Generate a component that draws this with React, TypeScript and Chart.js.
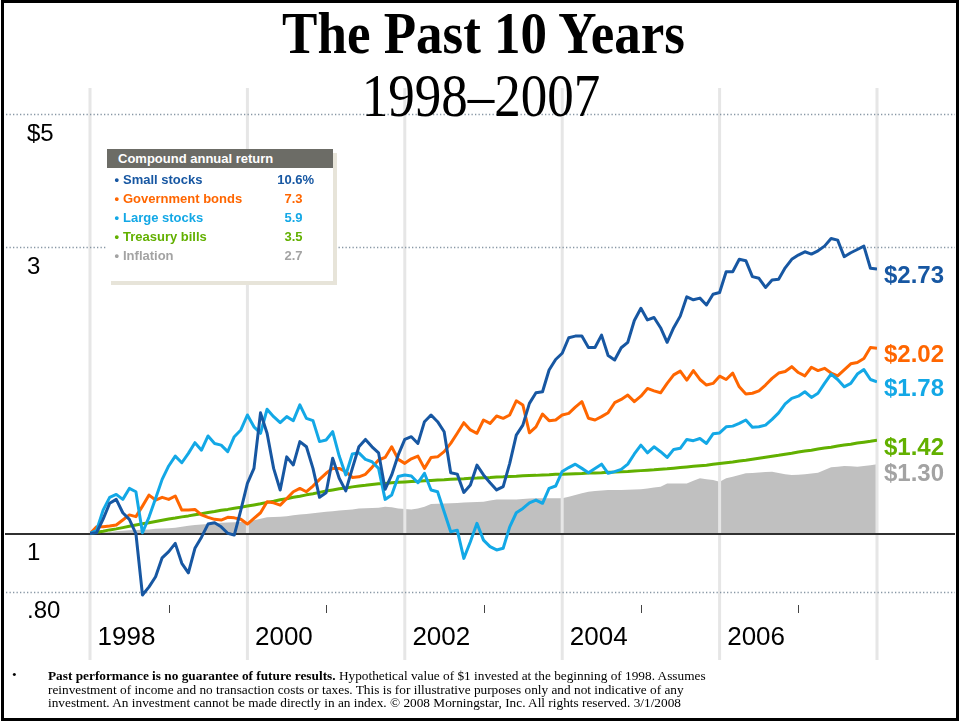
import React, { useEffect, useRef } from 'react';
import { Chart, registerables } from 'chart.js';

Chart.register(...registerables);

// ---------- data ----------
const startYear = 1998;
const endYear = 2008;
const xTickYears = [1998, 2000, 2002, 2004, 2006];
const gridYears = [1998, 2000, 2002, 2004, 2006, 2008];
const minorTickYears = [1999, 2001, 2003, 2005, 2007];
const yTickValues = [0.8, 1, 3, 5];
const yTickLabels = ['.80', '1', '3', '$5'];
const dottedValues = [0.8, 3, 5];
const baseValue = 1;

// month-end growth of $1 (Jan 1998 start .. Dec 2007)
const smallStocks = [
  1.000, 1.003, 1.057, 1.123, 1.140, 1.083, 1.056, 1.000, 0.790, 0.815, 0.847, 0.911, 0.933,
  0.963, 0.892, 0.860, 0.945, 0.986, 1.037, 1.042, 1.026, 1.001, 0.994, 1.094, 1.212,
  1.284, 1.589, 1.469, 1.284, 1.182, 1.342, 1.301, 1.423, 1.395, 1.284, 1.149, 1.169,
  1.335, 1.236, 1.178, 1.284, 1.395, 1.435, 1.395, 1.363, 1.185, 1.252, 1.352, 1.435,
  1.450, 1.413, 1.536, 1.576, 1.536, 1.478, 1.263, 1.256, 1.171, 1.205, 1.300, 1.252,
  1.215, 1.182, 1.197, 1.309, 1.459, 1.516, 1.648, 1.716, 1.723, 1.873, 1.950, 1.997,
  2.120, 2.133, 2.133, 2.042, 2.042, 2.141, 1.980, 1.946, 2.040, 2.083, 2.265, 2.373,
  2.270, 2.291, 2.203, 2.083, 2.203, 2.303, 2.480, 2.452, 2.468, 2.404, 2.505, 2.521,
  2.731, 2.731, 2.864, 2.849, 2.680, 2.663, 2.571, 2.646, 2.654, 2.772, 2.864, 2.911,
  2.948, 2.922, 2.959, 3.013, 3.103, 3.083, 2.893, 2.937, 2.974, 3.013, 2.768, 2.760,
];

const govBonds = [
  1.000, 1.026, 1.026, 1.029, 1.033, 1.053, 1.074, 1.067, 1.111, 1.159, 1.137, 1.149, 1.140,
  1.155, 1.094, 1.094, 1.097, 1.074, 1.064, 1.056, 1.053, 1.064, 1.062, 1.056, 1.037,
  1.060, 1.083, 1.130, 1.125, 1.115, 1.144, 1.174, 1.189, 1.174, 1.200, 1.231, 1.260,
  1.284, 1.284, 1.268, 1.240, 1.243, 1.255, 1.289, 1.326, 1.339, 1.395, 1.329, 1.309,
  1.332, 1.346, 1.284, 1.339, 1.342, 1.369, 1.413, 1.469, 1.530, 1.488, 1.469, 1.546,
  1.526, 1.570, 1.556, 1.576, 1.664, 1.638, 1.472, 1.506, 1.582, 1.542, 1.546, 1.576,
  1.586, 1.624, 1.659, 1.556, 1.546, 1.566, 1.590, 1.652, 1.673, 1.701, 1.659, 1.694,
  1.745, 1.729, 1.716, 1.779, 1.838, 1.865, 1.802, 1.869, 1.806, 1.768, 1.779, 1.829,
  1.806, 1.851, 1.756, 1.708, 1.713, 1.729, 1.768, 1.814, 1.851, 1.862, 1.897, 1.855,
  1.831, 1.893, 1.869, 1.885, 1.851, 1.831, 1.874, 1.918, 1.928, 1.958, 2.042, 2.035,
];

const largeStocks = [
  1.000, 1.012, 1.094, 1.149, 1.162, 1.140, 1.189, 1.174, 1.003, 1.065, 1.144, 1.231, 1.296,
  1.346, 1.312, 1.360, 1.417, 1.377, 1.454, 1.413, 1.404, 1.369, 1.450, 1.488, 1.576,
  1.506, 1.469, 1.611, 1.566, 1.530, 1.566, 1.542, 1.638, 1.556, 1.542, 1.423, 1.432,
  1.478, 1.346, 1.252, 1.357, 1.363, 1.329, 1.317, 1.284, 1.140, 1.159, 1.245, 1.252,
  1.247, 1.215, 1.260, 1.182, 1.174, 1.087, 1.007, 1.013, 0.909, 0.969, 1.040, 0.975,
  0.951, 0.939, 0.945, 1.026, 1.083, 1.101, 1.125, 1.137, 1.123, 1.189, 1.200, 1.269,
  1.288, 1.305, 1.284, 1.263, 1.284, 1.305, 1.260, 1.268, 1.279, 1.305, 1.357, 1.404,
  1.363, 1.395, 1.369, 1.339, 1.381, 1.387, 1.435, 1.428, 1.440, 1.413, 1.466, 1.471,
  1.506, 1.510, 1.526, 1.546, 1.503, 1.506, 1.516, 1.550, 1.589, 1.644, 1.680, 1.694,
  1.723, 1.686, 1.713, 1.779, 1.844, 1.806, 1.756, 1.779, 1.844, 1.876, 1.806, 1.790,
];

const treasuryBills = [
  1.000, 1.005, 1.009, 1.014, 1.018, 1.023, 1.028, 1.033, 1.038, 1.042, 1.047, 1.052, 1.057,
  1.061, 1.066, 1.070, 1.075, 1.079, 1.084, 1.088, 1.093, 1.097, 1.102, 1.106, 1.111,
  1.116, 1.121, 1.127, 1.132, 1.138, 1.143, 1.149, 1.154, 1.160, 1.165, 1.171, 1.177,
  1.182, 1.187, 1.191, 1.196, 1.200, 1.203, 1.207, 1.210, 1.212, 1.215, 1.217, 1.219,
  1.221, 1.222, 1.224, 1.226, 1.228, 1.229, 1.231, 1.233, 1.234, 1.236, 1.237, 1.239,
  1.240, 1.242, 1.243, 1.245, 1.246, 1.248, 1.249, 1.250, 1.252, 1.253, 1.255, 1.256,
  1.257, 1.258, 1.259, 1.261, 1.262, 1.263, 1.265, 1.266, 1.268, 1.269, 1.271, 1.273,
  1.275, 1.277, 1.280, 1.282, 1.285, 1.288, 1.291, 1.294, 1.297, 1.300, 1.304, 1.308,
  1.312, 1.316, 1.321, 1.325, 1.330, 1.335, 1.340, 1.345, 1.350, 1.356, 1.361, 1.367,
  1.372, 1.377, 1.383, 1.388, 1.393, 1.399, 1.404, 1.409, 1.415, 1.420, 1.425, 1.431,
];

const inflation = [
  1.000, 1.002, 1.004, 1.006, 1.009, 1.011, 1.013, 1.014, 1.015, 1.016, 1.018, 1.019, 1.020,
  1.022, 1.026, 1.030, 1.033, 1.035, 1.037, 1.039, 1.042, 1.043, 1.044, 1.045, 1.046,
  1.052, 1.058, 1.064, 1.065, 1.066, 1.069, 1.073, 1.076, 1.078, 1.081, 1.084, 1.087,
  1.089, 1.092, 1.094, 1.097, 1.101, 1.102, 1.103, 1.104, 1.108, 1.106, 1.101, 1.099,
  1.097, 1.101, 1.108, 1.120, 1.121, 1.122, 1.123, 1.124, 1.126, 1.128, 1.129, 1.130,
  1.135, 1.140, 1.140, 1.140, 1.140, 1.142, 1.144, 1.145, 1.145, 1.145, 1.145, 1.145,
  1.152, 1.159, 1.167, 1.174, 1.177, 1.180, 1.182, 1.182, 1.182, 1.183, 1.184, 1.185,
  1.189, 1.193, 1.197, 1.212, 1.212, 1.212, 1.212, 1.224, 1.236, 1.232, 1.228, 1.220,
  1.236, 1.244, 1.252, 1.260, 1.262, 1.264, 1.266, 1.268, 1.262, 1.256, 1.252, 1.253,
  1.255, 1.259, 1.263, 1.276, 1.289, 1.292, 1.296, 1.294, 1.292, 1.296, 1.300, 1.304,
];

const seriesNames = ['Small stocks', 'Government bonds', 'Large stocks', 'Treasury bills', 'Inflation'];
const annualReturns = ['10.6%', '7.3', '5.9', '3.5', '2.7'];
const endLabels = ['$2.73', '$2.02', '$1.78', '$1.42', '$1.30'];
const legendTitle = 'Compound annual return';
const titleText = 'The Past 10 Years';
const subtitleText = '1998\u20132007';

// ---------- styles ----------
const C_SMALL = '#1757a2';
const C_BONDS = '#ff6600';
const C_LARGE = '#13a8e6';
const C_BILLS = '#62b000';
const C_INFL = '#c0c0c0';
const C_INFL_TEXT = '#a3a3a3';
const seriesTextColors = [C_SMALL, C_BONDS, C_LARGE, C_BILLS, C_INFL_TEXT];

const SANS = '"Liberation Sans", Arial, sans-serif';
const SERIF = '"Liberation Serif", "Times New Roman", serif';

const toPoints = (vals: number[]) => vals.map((v, i) => ({ x: startYear + i / 12, y: v }));

export default function App() {
  const canvasRef = useRef<HTMLCanvasElement | null>(null);

  useEffect(() => {
    const canvas = canvasRef.current;
    if (!canvas) return;

    // datasets are: small, large, bonds, bills, inflation -> legend/label index
    const labelIdxForDataset = [0, 2, 1, 3, 4];
    const labelBaselineOffset = [14, 14, 14, 15, 17];
    const INFL_DS = 4;

    const decor = {
      id: 'decor',
      afterDatasetDraw(chart: any, args: any) {
        if (args.index !== INFL_DS) return;
        const ctx = chart.ctx as CanvasRenderingContext2D;
        const xs = chart.scales.x;
        const ys = chart.scales.y;
        ctx.save();
        // vertical grid lines
        ctx.strokeStyle = '#e6e6e6';
        ctx.lineWidth = 3;
        gridYears.forEach((yr) => {
          const px = xs.getPixelForValue(yr);
          ctx.beginPath();
          ctx.moveTo(px, 88);
          ctx.lineTo(px, 660);
          ctx.stroke();
        });
        // dotted horizontal lines
        ctx.strokeStyle = '#8796a4';
        ctx.lineWidth = 1.3;
        ctx.setLineDash([1.3, 2.2]);
        dottedValues.forEach((v) => {
          const py = Math.round(ys.getPixelForValue(v)) + 0.5;
          ctx.beginPath();
          ctx.moveTo(6, py);
          ctx.lineTo(955, py);
          ctx.stroke();
        });
        ctx.setLineDash([]);
        // base line at $1
        ctx.strokeStyle = '#303030';
        ctx.lineWidth = 2;
        const pb = Math.round(ys.getPixelForValue(baseValue));
        ctx.beginPath();
        ctx.moveTo(5, pb);
        ctx.lineTo(955, pb);
        ctx.stroke();
        // minor year ticks
        ctx.strokeStyle = '#444';
        ctx.lineWidth = 1;
        minorTickYears.forEach((yr) => {
          const px = Math.round(xs.getPixelForValue(yr)) + 0.5;
          ctx.beginPath();
          ctx.moveTo(px, 605);
          ctx.lineTo(px, 613);
          ctx.stroke();
        });
        ctx.restore();
      },
      afterDatasetsDraw(chart: any) {
        const ctx = chart.ctx as CanvasRenderingContext2D;
        ctx.save();
        ctx.font = 'bold 24px ' + SANS;
        ctx.textAlign = 'left';
        ctx.textBaseline = 'alphabetic';
        chart.data.datasets.forEach((_ds: any, di: number) => {
          const li = labelIdxForDataset[di];
          const meta = chart.getDatasetMeta(di);
          const last = meta.data[meta.data.length - 1];
          if (!last) return;
          ctx.fillStyle = seriesTextColors[li];
          ctx.fillText(endLabels[li], 884, last.y + labelBaselineOffset[li]);
        });
        ctx.restore();
      },
    };

    const lineBase = {
      borderWidth: 3,
      pointRadius: 0,
      pointHoverRadius: 0,
      tension: 0,
      fill: false,
      borderJoinStyle: 'round' as const,
    };

    const chart = new Chart(canvas, {
      type: 'line',
      data: {
        datasets: [
          { ...lineBase, label: seriesNames[0], data: toPoints(smallStocks), borderColor: C_SMALL, order: 1 },
          { ...lineBase, label: seriesNames[2], data: toPoints(largeStocks), borderColor: C_LARGE, order: 2 },
          { ...lineBase, label: seriesNames[1], data: toPoints(govBonds), borderColor: C_BONDS, order: 3 },
          { ...lineBase, label: seriesNames[3], data: toPoints(treasuryBills), borderColor: C_BILLS, order: 4 },
          {
            label: seriesNames[4],
            data: toPoints(inflation),
            borderWidth: 0,
            borderColor: 'rgba(0,0,0,0)',
            backgroundColor: C_INFL,
            pointRadius: 0,
            tension: 0,
            fill: { value: baseValue },
            order: 5,
          },
        ],
      },
      options: {
        animation: false,
        responsive: false,
        events: [],
        layout: { padding: { left: 27, right: 83, top: 88, bottom: 62 } },
        plugins: {
          legend: { display: false },
          tooltip: { enabled: false },
          title: { display: false },
        },
        scales: {
          x: {
            type: 'linear',
            min: startYear,
            max: endYear,
            bounds: 'data',
            grid: { display: false, drawTicks: false },
            border: { display: false },
            afterBuildTicks: (ax: any) => {
              ax.ticks = xTickYears.map((v) => ({ value: v }));
            },
            afterFit: (ax: any) => {
              ax.height = 40;
            },
            ticks: {
              autoSkip: false,
              maxRotation: 0,
              labelOffset: 36.5,
              padding: 2,
              color: '#000',
              font: { family: SANS, size: 26 },
              callback: (v: any) => String(v),
            },
          },
          y: {
            type: 'logarithmic',
            min: 0.7176,
            max: 5.527,
            bounds: 'data',
            grid: { display: false, drawTicks: false },
            border: { display: false },
            afterBuildTicks: (ax: any) => {
              ax.ticks = yTickValues.map((v) => ({ value: v }));
            },
            afterFit: (ax: any) => {
              ax.width = 63;
            },
            ticks: {
              autoSkip: false,
              crossAlign: 'far',
              labelOffset: 20,
              padding: 0,
              color: '#000',
              font: { family: SANS, size: 24 },
              callback: (_v: any, i: number) => yTickLabels[i],
            },
          },
        },
      } as any,
      plugins: [decor],
    });

    return () => chart.destroy();
  }, []);

  const rowTop = (i: number) => 20.5 + i * 19.2;

  return (
    <div style={{ position: 'absolute', left: 0, top: 0, width: 960, height: 722, background: '#fff', overflow: 'hidden' }}>
      <canvas ref={canvasRef} width={960} height={722} style={{ position: 'absolute', left: 0, top: 0, width: 960, height: 722, display: 'block' }} />

      <div style={{ position: 'absolute', left: 3.5, top: 2.5, width: 960, textAlign: 'center', font: 'bold 53px/53px ' + SERIF, color: '#000', transform: 'scaleY(1.13)', transformOrigin: '50% 0', whiteSpace: 'nowrap' }}>
        {titleText}
      </div>
      <div style={{ position: 'absolute', left: 1, top: 65, width: 960, textAlign: 'center', font: '53px/53px ' + SERIF, color: '#000', transform: 'scaleY(1.17)', transformOrigin: '50% 0', whiteSpace: 'nowrap' }}>
        {subtitleText}
      </div>

      <div style={{ position: 'absolute', left: 107, top: 149, width: 226, height: 132, background: '#fff', boxShadow: '4px 4px 0 #e7e4d9' }}>
        <div style={{ height: 19, background: '#6c6c66', color: '#fff', font: 'bold 13px/19px ' + SANS, paddingLeft: 11, whiteSpace: 'nowrap' }}>
          {legendTitle}
        </div>
        {seriesNames.map((name, i) => {
          const val = annualReturns[i];
          const dot = val.indexOf('.');
          const intPart = val.slice(0, dot);
          const rest = val.slice(dot);
          return (
            <div key={name} style={{ position: 'absolute', left: 0, top: rowTop(i), width: 226, height: 19, font: 'bold 13px/19px ' + SANS, color: seriesTextColors[i], whiteSpace: 'nowrap' }}>
              <span style={{ position: 'absolute', left: 7.5, top: 0 }}>{'\u2022'}</span>
              <span style={{ position: 'absolute', left: 16, top: 0 }}>{name}</span>
              <span style={{ position: 'absolute', right: 226 - 184.7, top: 0 }}>{intPart}</span>
              <span style={{ position: 'absolute', left: 184.7, top: 0 }}>{rest}</span>
            </div>
          );
        })}
      </div>

      <div style={{ position: 'absolute', left: 12, top: 668, font: '13.3px/13.5px ' + SERIF, color: '#000' }}>{'\u2022'}</div>
      <div style={{ position: 'absolute', left: 48, top: 669, font: '13.3px/13.5px ' + SERIF, color: '#000', whiteSpace: 'nowrap' }}>
        <b>Past performance is no guarantee of future results.</b> Hypothetical value of $1 invested at the beginning of 1998. Assumes
        <br />
        reinvestment of income and no transaction costs or taxes. This is for illustrative purposes only and not indicative of any
        <br />
        investment. An investment cannot be made directly in an index. {'\u00a9'} 2008 Morningstar, Inc. All rights reserved. 3/1/2008
      </div>

      <div style={{ position: 'absolute', left: 1, top: 0, width: 958, height: 721, border: '3px solid #000', boxSizing: 'border-box', pointerEvents: 'none' }} />
    </div>
  );
}
